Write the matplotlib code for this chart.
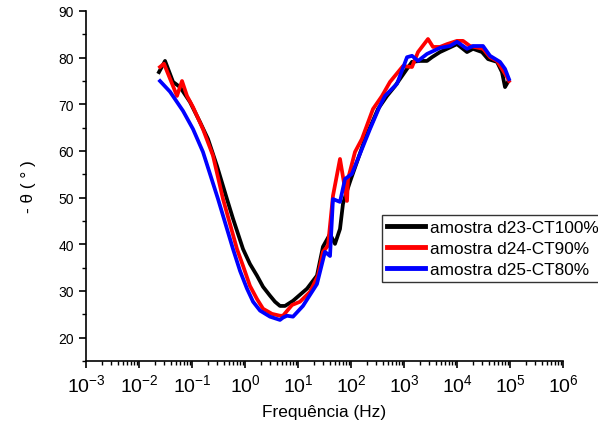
import matplotlib
matplotlib.use("Agg")
import matplotlib.pyplot as plt
from matplotlib.ticker import LogLocator, MultipleLocator, NullFormatter

plt.rcParams['font.family'] = ['Liberation Sans', 'DejaVu Sans']
plt.rcParams['mathtext.fontset'] = 'custom'
plt.rcParams['mathtext.rm'] = 'Liberation Sans'
plt.rcParams['mathtext.it'] = 'Liberation Sans:italic'

# Series data: frequency (Hz) and -theta (degrees)
freq_d23 = [0.0238, 0.031, 0.0439, 0.0594, 0.0916, 0.1416, 0.200, 0.296, 0.457, 0.594,
            0.917, 1.24, 1.68, 2.19, 2.96, 3.68, 4.57, 5.69, 8.05, 14.8, 22.8, 29.6, 40.2,
            49.9, 62.0, 70.6, 80.5, 95.7, 130, 184, 323, 478, 676, 1140, 1416, 2004, 2717,
            3374, 4775, 6471, 10000, 15450, 20050, 29640, 38460, 56890, 70630, 80540, 91620]
theta_d23 = [76.9, 79.3, 74.8, 73.7, 70.5, 66.2, 62.6, 56.8, 49.7, 45.5,
             39.0, 35.8, 33.3, 30.9, 29.0, 27.7, 26.8, 26.8, 27.9, 30.5, 33.3, 39.5, 42.2,
             40.1, 43.3, 48.7, 50.8, 53.4, 57.7, 62.6, 69.0, 71.8, 73.9, 77.6, 79.1, 79.3, 79.3,
             80.1, 81.2, 81.9, 82.9, 81.2, 81.9, 81.2, 79.7, 79.1, 76.9, 73.7, 74.8]

freq_d24 = [0.0249, 0.0296, 0.0521, 0.0648, 0.0805, 0.1045, 0.161, 0.249, 0.385, 0.706,
            0.917, 1.24, 1.68, 2.19, 3.23, 4.57, 5.21, 7.71, 10.9, 16.8, 23.8, 29.6, 36.8,
            45.7, 62.0, 84.1, 87.8, 119, 161, 260, 385, 544, 957, 1416, 1837, 2836, 3524,
            4775, 6471, 10000, 12980, 17580, 30970, 41970, 56890, 70630, 87740, 95740]
theta_d24 = [78.0, 78.7, 71.8, 75.0, 71.8, 69.4, 64.7, 59.0, 49.7, 39.0,
             35.4, 31.1, 28.3, 26.2, 25.1, 24.7, 24.7, 27.0, 27.7, 29.8, 33.3, 38.4, 39.7,
             50.4, 58.3, 49.3, 54.0, 59.8, 62.6, 69.0, 71.8, 74.8, 78.2, 78.0, 81.2, 84.0, 82.3,
             82.3, 82.9, 83.6, 83.6, 82.5, 81.9, 80.1, 79.3, 77.6, 75.9, 75.0]

freq_d25 = [0.0249, 0.0385, 0.0676, 0.1045, 0.161, 0.310, 0.594, 0.806, 1.09, 1.42, 1.92,
            2.96, 4.57, 5.21, 6.20, 8.05, 12.4, 22.8, 32.3, 40.2, 45.7, 62.0, 77.1, 104,
            228, 352, 438, 738, 1140, 1416, 1837, 2717, 4775, 7380, 10000, 15450, 20050,
            30970, 41970, 64710, 80540, 95740]
theta_d25 = [75.0, 72.7, 68.6, 64.7, 59.8, 49.7, 39.0, 34.3, 30.5, 27.7, 25.8,
             24.5, 23.8, 24.3, 24.7, 24.5, 26.8, 31.5, 38.4, 37.5, 49.7, 49.1, 54.0, 55.1,
             64.7, 69.7, 71.8, 74.4, 80.1, 80.4, 79.3, 80.8, 82.1, 82.5, 83.4, 81.9, 82.5,
             82.5, 80.4, 79.1, 77.6, 75.4]

labels = ['amostra d23-CT100%', 'amostra d24-CT90%', 'amostra d25-CT80%']
colors = ['#000000', '#ff0000', '#0000ff']

fig = plt.figure(figsize=(5.98, 4.35), dpi=100)
ax = fig.add_axes([86/598, 1 - 362/435, (563-86)/598, (362-12)/435])

for f, t, lab, c in zip([freq_d23, freq_d24, freq_d25],
                        [theta_d23, theta_d24, theta_d25], labels, colors):
    ax.plot(f, t, color=c, lw=2.7, label=lab)

ax.set_xscale('log')
ax.set_xlim(1e-3, 1e6)
ax.set_ylim(15, 90)
ax.xaxis.set_major_locator(LogLocator(base=10, numticks=20))
ax.xaxis.set_minor_locator(LogLocator(base=10, subs=range(2, 10), numticks=100))
ax.xaxis.set_minor_formatter(NullFormatter())
ax.yaxis.set_minor_locator(MultipleLocator(5))
ax.set_yticks([20, 30, 40, 50, 60, 70, 80, 90])

ax.spines['top'].set_visible(False)
ax.spines['right'].set_visible(False)
for s in ['left', 'bottom']:
    ax.spines[s].set_linewidth(1.2)

ax.tick_params(axis='both', which='major', direction='out', length=5, width=1.2)
ax.tick_params(axis='both', which='minor', direction='out', length=3, width=1.0)
ax.tick_params(axis='y', labelsize=10)
ax.tick_params(axis='x', labelsize=14, pad=4)

ax.set_xlabel('Frequência (Hz)', fontsize=12.4, labelpad=6)
ax.set_ylabel('- θ ( ° )', fontsize=12.4, labelpad=16)

leg = ax.legend(loc='upper left', bbox_to_anchor=(382/598, 1 - 216/435),
                bbox_transform=fig.transFigure, fontsize=12.4, frameon=True,
                fancybox=False, edgecolor='black', borderpad=0.3,
                handlelength=2.2, handletextpad=0.3, labelspacing=0.33,
                borderaxespad=0)
leg.get_frame().set_linewidth(1.0)
for line in leg.get_lines():
    line.set_linewidth(3.5)

fig.savefig('out.png', dpi=100)
